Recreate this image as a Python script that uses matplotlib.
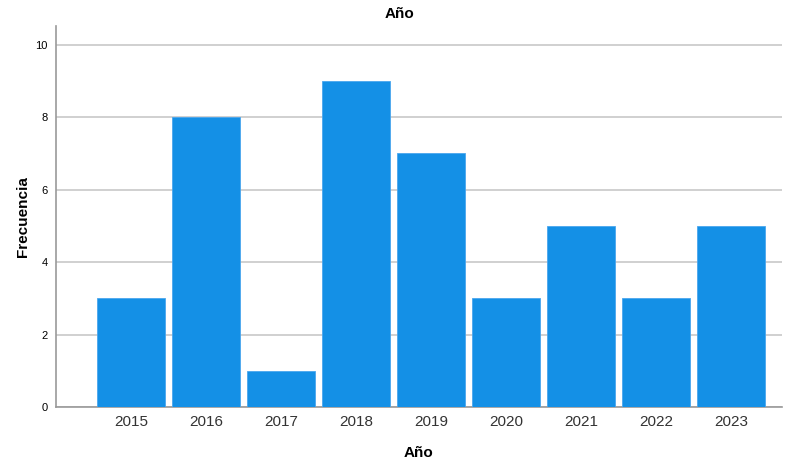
import matplotlib
matplotlib.use("Agg")
import matplotlib.pyplot as plt

plt.rcParams['font.family'] = ['Liberation Sans', 'DejaVu Sans']

years = ['2015', '2016', '2017', '2018', '2019', '2020', '2021', '2022', '2023']
freq = [3, 8, 1, 9, 7, 3, 5, 3, 5]

fig = plt.figure(figsize=(7.95, 4.61), dpi=100)
ax = fig.add_axes([56/795, 54/461, (782-56)/795, (407-26)/461])

x = list(range(len(years)))
ax.bar(x, freq, width=0.9, color='#1490e6', edgecolor='#4aa6ee', linewidth=0.6, zorder=3)

ax.set_xlim(-1, 8.68)
ax.set_ylim(0, 10.52)
ax.set_yticks([0, 2, 4, 6, 8, 10])
ax.set_xticks(x)
ax.set_xticklabels(years, fontsize=11, color='#333333')
ax.tick_params(axis='y', labelsize=8, length=0, pad=6)
ax.tick_params(axis='x', length=0, pad=6)
ax.yaxis.grid(True, color='#c8c8c8', linewidth=1.2, zorder=0)
for s in ['top', 'right']:
    ax.spines[s].set_visible(False)
ax.spines['left'].set_color('#999999')
ax.spines['bottom'].set_color('#999999')
ax.spines['left'].set_linewidth(1.2)
ax.spines['bottom'].set_linewidth(1.2)

fig.text(0.502, 1 - 14/461, 'Año', fontsize=11, fontweight='bold', ha='center', va='center')
ax.set_xlabel('Año', fontsize=11, fontweight='bold', labelpad=12)
ax.set_ylabel('Frecuencia', fontsize=11, fontweight='bold', labelpad=4)

fig.savefig('out.png', dpi=100)
